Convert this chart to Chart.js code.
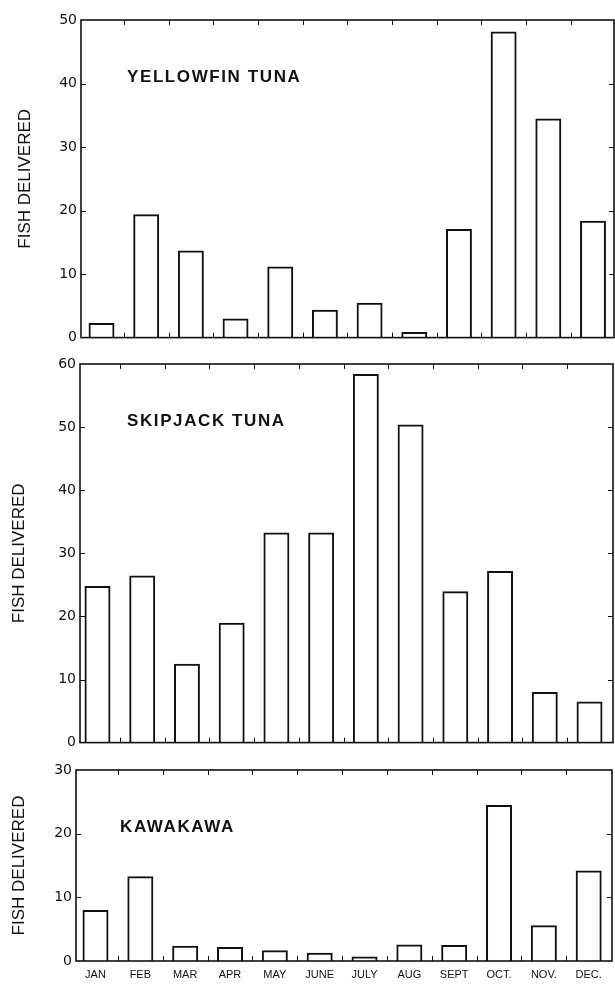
<!DOCTYPE html>
<html>
<head>
<meta charset="utf-8">
<script src="https://cdn.jsdelivr.net/npm/chart.js@4/dist/chart.umd.min.js"></script>
<style>
  html, body { margin: 0; padding: 0; background: #fff; }
  body { width: 615px; height: 984px; position: relative; overflow: hidden; }
  canvas { position: absolute; left: 0; }
</style>
</head>
<body>
<canvas id="c1" width="615" height="350" style="top:0px"></canvas>
<canvas id="c2" width="615" height="405" style="top:350px"></canvas>
<canvas id="c3" width="615" height="229" style="top:755px"></canvas>
<script>
// ---- data ----
const months = ['JAN', 'FEB', 'MAR', 'APR', 'MAY', 'JUNE', 'JULY', 'AUG', 'SEPT', 'OCT.', 'NOV.', 'DEC.'];
const yellowfin = [2.3, 19.4, 13.7, 3.0, 11.2, 4.4, 5.5, 0.9, 17.1, 48.2, 34.5, 18.4];
const skipjack  = [24.8, 26.5, 12.5, 19.0, 33.3, 33.3, 58.4, 50.4, 24.0, 27.2, 8.0, 6.5];
const kawakawa  = [8.0, 13.3, 2.4, 2.2, 1.7, 1.3, 0.7, 2.6, 2.5, 24.5, 5.6, 14.2];
const panelTitles = ['YELLOWFIN TUNA', 'SKIPJACK TUNA', 'KAWAKAWA'];
const yAxisMax = [50, 60, 30];
const yTickStep = 10;
const yTitle = 'FISH DELIVERED';

const INK = '#111';
Chart.defaults.font.family = '"DejaVu Sans", sans-serif';
Chart.defaults.color = INK;

const framePlugin = {
  id: 'frame',
  afterDatasetsDraw(chart, args, opts) {
    const { ctx, chartArea: a, scales: { x, y } } = chart;
    ctx.save();
    ctx.strokeStyle = INK;
    // inward tick marks
    ctx.lineWidth = 1;
    ctx.beginPath();
    for (let i = 1; i < months.length; i++) {
      const px = Math.round(x.getPixelForValue(i - 0.5)) + 0.5;
      ctx.moveTo(px, a.top); ctx.lineTo(px, a.top + 5);
      ctx.moveTo(px, a.bottom); ctx.lineTo(px, a.bottom - 5);
    }
    for (let v = yTickStep; v < y.max; v += yTickStep) {
      const py = Math.round(y.getPixelForValue(v)) + 0.5;
      ctx.moveTo(a.left, py); ctx.lineTo(a.left + 5, py);
      ctx.moveTo(a.right, py); ctx.lineTo(a.right - 5, py);
    }
    ctx.stroke();
    // frame
    ctx.lineWidth = 1.6;
    ctx.strokeRect(a.left, a.top, a.right - a.left, a.bottom - a.top);
    // panel title
    ctx.fillStyle = INK;
    ctx.font = 'bold 17px "Liberation Sans", Arial, sans-serif';
    if ('letterSpacing' in ctx) ctx.letterSpacing = '1.6px';
    ctx.textBaseline = 'middle';
    ctx.textAlign = 'left';
    ctx.fillText(opts.text, a.left + opts.dx, a.top + 57);
    ctx.restore();
  }
};

function makePanel(id, values, idx, geo) {
  const data = values.map((v, i) => ({ x: i, y: v }));
  return new Chart(document.getElementById(id), {
    type: 'bar',
    data: {
      datasets: [{
        data: data,
        backgroundColor: 'rgba(255,255,255,0)',
        borderColor: INK,
        borderWidth: 2,
        categoryPercentage: 1,
        barPercentage: 0.58
      }]
    },
    plugins: [framePlugin],
    options: {
      responsive: false,
      animation: false,
      devicePixelRatio: 1,
      layout: { padding: { top: geo.top, right: geo.right, bottom: geo.bottom, left: 0 } },
      plugins: {
        legend: { display: false },
        tooltip: { enabled: false },
        frame: { text: panelTitles[idx], dx: geo.dx }
      },
      scales: {
        x: {
          type: 'linear',
          offset: false,
          min: geo.xmin,
          max: geo.xmax,
          display: geo.showX,
          grid: { display: false, drawTicks: false, offset: false },
          border: { display: false },
          afterBuildTicks: (s) => { s.ticks = months.map((m, i) => ({ value: i })); },
          afterFit: (s) => { if (geo.showX) s.height = geo.xh; },
          ticks: {
            autoSkip: false,
            maxRotation: 0,
            padding: 7,
            font: { family: '"Liberation Sans", Arial, sans-serif', size: 11 },
            callback: (v) => months[v] ?? ''
          }
        },
        y: {
          min: 0,
          max: yAxisMax[idx],
          grid: { display: false, drawTicks: false },
          border: { display: false },
          afterFit: (s) => { s.width = geo.yw; },
          ticks: { stepSize: yTickStep, padding: 4, font: { size: 14 } },
          title: {
            display: true,
            text: yTitle,
            font: { family: '"Liberation Sans", Arial, sans-serif', size: 17 },
            padding: { top: geo.tpad, bottom: 0 }
          }
        }
      }
    }
  });
}

makePanel('c1', yellowfin, 0, { top: 20, right: 1, bottom: 8, yw: 81, xmin: -0.459, xmax: 11.47, showX: false, xh: 0, tpad: 15, dx: 46 });
makePanel('c2', skipjack, 1, { top: 14, right: 2, bottom: 7, yw: 80, xmin: -0.391, xmax: 11.525, showX: false, xh: 0, tpad: 9, dx: 47 });
makePanel('c3', kawakawa, 2, { top: 15, right: 3, bottom: 0, yw: 76, xmin: -0.435, xmax: 11.52, showX: true, xh: 23, tpad: 9, dx: 44 });
</script>
</body>
</html>
